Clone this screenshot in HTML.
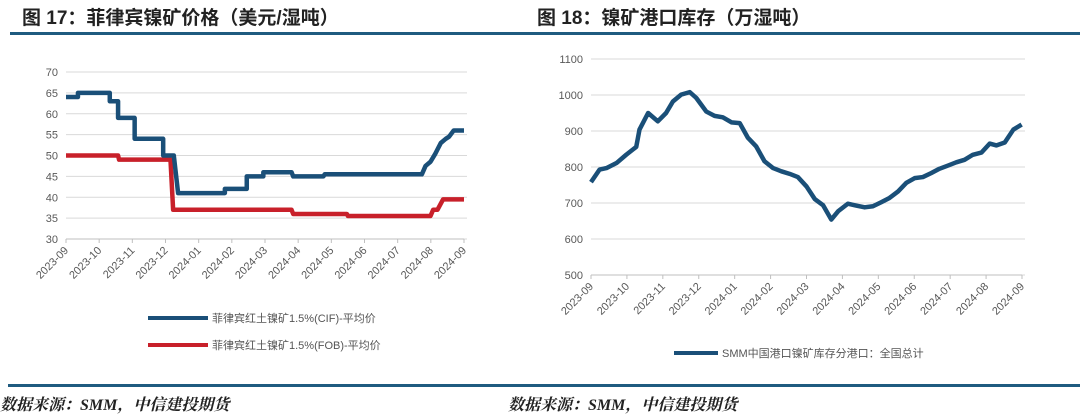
<!DOCTYPE html>
<html><head><meta charset="utf-8"><style>
body{margin:0;background:#fff;width:1080px;height:417px;overflow:hidden;font-family:"Liberation Sans","Noto Sans CJK SC",sans-serif;}
svg{position:absolute;left:0;top:0}
</style></head><body>
<svg id="s" width="1080" height="417">
<text x="22" y="24" font-size="19" font-weight="bold" fill="#222">图 17：菲律宾镍矿价格（美元/湿吨）</text>
<text x="537" y="24" font-size="19" font-weight="bold" fill="#222">图 18：镍矿港口库存（万湿吨）</text>
<rect x="10" y="32" width="1070" height="3" fill="#1f5b80"/>
<rect x="8" y="384" width="1072" height="3" fill="#1f5b80"/>
<text x="0" y="410" font-size="16" font-weight="bold" font-style="italic" fill="#222" font-family="'Liberation Serif','Noto Serif CJK SC',serif">数据来源：SMM，中信建投期货</text>
<text x="508" y="410" font-size="16" font-weight="bold" font-style="italic" fill="#222" font-family="'Liberation Serif','Noto Serif CJK SC',serif">数据来源：SMM，中信建投期货</text>
<g id="L"></g><g id="R"></g>
<line x1="148" y1="318" x2="208" y2="318" stroke="#1a4f78" stroke-width="4"/>
<text x="212" y="322" font-size="11" fill="#555">菲律宾红土镍矿1.5%(CIF)-平均价</text>
<line x1="148" y1="345" x2="208" y2="345" stroke="#c8202a" stroke-width="4"/>
<text x="212" y="349" font-size="11" fill="#555">菲律宾红土镍矿1.5%(FOB)-平均价</text>
<line x1="674" y1="353" x2="718" y2="353" stroke="#1a4f78" stroke-width="4"/>
<text x="722" y="357" font-size="11" fill="#555">SMM中国港口镍矿库存分港口：全国总计</text>
</svg>
<script>
const months=["2023-09","2023-10","2023-11","2023-12","2024-01","2024-02","2024-03","2024-04","2024-05","2024-06","2024-07","2024-08","2024-09"];
const leftTicks=[30,35,40,45,50,55,60,65,70];
const rightTicks=[500,600,700,800,900,1000,1100];
// CIF step series: [month offset, value]
const cifX=[0,0.36,0.36,1.32,1.32,1.57,1.57,2.07,2.07,2.93,2.93,3.25,3.38,4.79,4.79,5.45,5.45,5.95,5.95,6.8,6.85,7.76,7.8,10.73,10.84,10.99,11.14,11.3,11.45,11.55,11.69,12.0];
const cifY=[64,64,65,65,63,63,59,59,54,54,50,50,41,41,42,42,45,45,46,46,45,45,45.5,45.5,47.5,48.5,50.5,53,54,54.5,56,56];
const fobX=[0,1.57,1.6,3.15,3.23,6.8,6.85,8.47,8.5,10.99,11.07,11.2,11.37,12.0];
const fobY=[50,50,49,49,37,37,36,36,35.5,35.5,37,37,39.5,39.5];
const invX=[0,0.24,0.43,0.71,0.98,1.26,1.35,1.59,1.86,2.09,2.28,2.51,2.75,2.93,3.21,3.44,3.67,3.91,4.14,4.37,4.6,4.83,5.07,5.3,5.53,5.76,6.0,6.23,6.46,6.69,6.88,7.15,7.38,7.62,7.85,8.08,8.31,8.55,8.78,9.01,9.24,9.47,9.70,9.94,10.17,10.4,10.63,10.87,11.1,11.29,11.52,11.76,11.99];
const invY=[758,793,797,811,834,856,904,950,927,950,982,1001,1008,992,954,942,938,924,922,881,857,816,797,788,781,772,746,711,694,654,677,698,693,688,691,702,714,732,756,769,772,783,795,804,813,820,834,840,865,860,868,904,918];
const NS="http://www.w3.org/2000/svg";
function mk(g,tag,a){const e=document.createElementNS(NS,tag);for(const k in a)e.setAttribute(k,a[k]);g.appendChild(e);return e;}
function chart(gid,x0,x1,yTop,yBot,ticks,fmt){
 const g=document.getElementById(gid);
 const vmin=ticks[0],vmax=ticks[ticks.length-1];
 const sx=m=>x0+(x1-x0)*m/12, sy=v=>yBot-(v-vmin)/(vmax-vmin)*(yBot-yTop);
 ticks.forEach(t=>{
  const l=mk(g,"line",{x1:x0,x2:x1+3,y1:sy(t),y2:sy(t),stroke:"#d9d9d9","stroke-width":1});
  
  
  const tx=mk(g,"text",{x:x0-8,y:sy(t)+4,"text-anchor":"end","font-size":11,fill:"#595959"});tx.textContent=t;
  
  
 });
 mk(g,"line",{x1:x0,x2:x1,y1:yBot,y2:yBot,stroke:"#bfbfbf"});
 months.forEach((m,i)=>{
  const x=sx(i);
  mk(g,"line",{x1:x,x2:x,y1:yBot,y2:yBot+4,stroke:"#bfbfbf"});
  const t=mk(g,"text",{x:x+3,y:yBot+12,"text-anchor":"end","font-size":11,fill:"#595959",transform:`rotate(-45 ${x+3} ${yBot+12})`});t.textContent=m;
  
  
 });
 return {g,sx,sy};
}
const L=chart("L",66,464,72,239,leftTicks);
function line(c,xs,ys,col,name){
 const p=mk(c.g,"polyline",{points:xs.map((x,i)=>c.sx(x)+","+c.sy(ys[i])).join(" "),fill:"none",stroke:col,"stroke-width":4.5,"stroke-linejoin":"round"});
 
 
}
line(L,fobX,fobY,"#c8202a","fob-price-line");
line(L,cifX,cifY,"#1a4f78","cif-price-line");
const R=chart("R",591,1022,59,275,rightTicks);
line(R,invX,invY,"#1a4f78","inventory-line");
</script>
</body></html>
